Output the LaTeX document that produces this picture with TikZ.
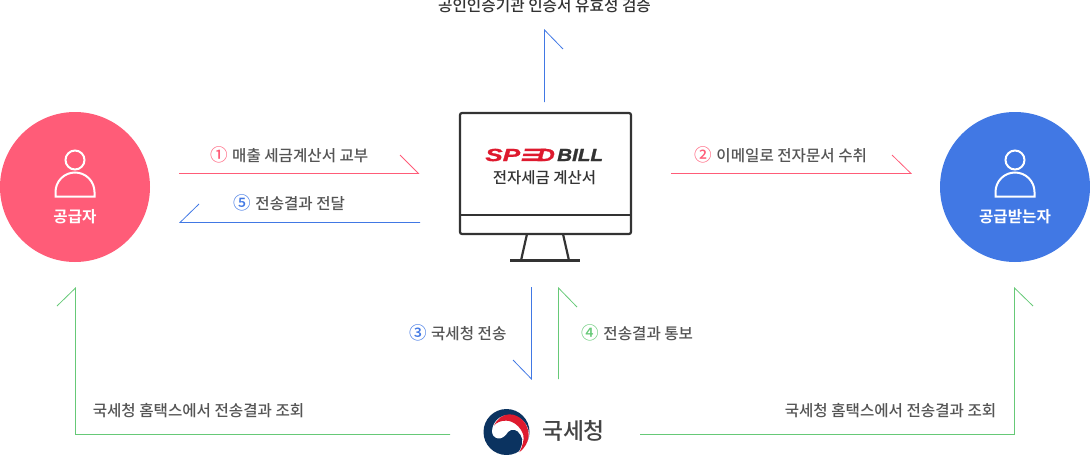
\documentclass[tikz,border=0pt]{standalone}
\usepackage{fontspec}
\setmainfont{Noto Sans CJK KR}
\newfontfamily\medkr{Noto Sans CJK KR}[UprightFont={* Medium}]
\newfontfamily\boldkr{Noto Sans CJK KR}[UprightFont={* Bold}]
\newfontfamily\logofont{Liberation Sans}[UprightFont={* Bold Italic},RawFeature={embolden=1.2}]
\definecolor{cred}{HTML}{FF5C78}
\definecolor{cblue}{HTML}{4178E4}
\definecolor{cgreen}{HTML}{66C977}
\definecolor{cgray}{HTML}{555555}
\definecolor{cdark}{HTML}{333333}
\definecolor{navy}{HTML}{0B3360}
\definecolor{logored}{HTML}{DE1A2E}
\newcommand{\cnum}[2]{\textcolor{#1}{\fontsize{17.5}{18}\selectfont #2}\hspace{4pt}}
\tikzset{
  x=1pt,y=-1pt,
  flow/.style={line width=0.8pt},
  lbl/.style={inner sep=0,text=cgray,font=\fontsize{15.6}{18}\medkr},
  circlenode/.style={circle,minimum size=150pt,inner sep=0},
  whitelbl/.style={inner sep=0,text=white,font=\fontsize{15.6}{17}\boldkr},
  person/.style={draw=white,line width=2pt},
  screen/.style={draw=cdark,line width=2.2pt,line join=round},
  logoletters/.style={inner sep=0,font=\fontsize{17.5}{18}\logofont}
}
\begin{document}
\begin{tikzpicture}
\useasboundingbox (0,0) rectangle (1090,455);
% parties
\node[circlenode,fill=cred] (sup) at (75,187) {};
\node[circlenode,fill=cblue] (rec) at (1015,187) {};
\node[whitelbl] (suplbl) at (75,217) {공급자};
\node[whitelbl] (reclbl) at (1015,217) {공급받는자};
\foreach \c in {75,1015}{
  \draw[person] (\c,160) circle[radius=9.5];
  \draw[person] (\c-19.5,196.5) -- (\c-19.5,192) arc[start angle=180,end angle=0,x radius=19.5,y radius=-19.5] -- (\c+19.5,196.5) -- cycle;
}
% monitor
\draw[screen,rounded corners=2pt] (460,113) rectangle (631,234);
\draw[screen] (460,215) -- (631,215);
\draw[screen] (527,234) -- (521,260.5);
\draw[screen] (563,234) -- (569,260.5);
\draw[screen] (510,260.5) -- (580,260.5);
% logo on the screen
\node[logoletters,text=logored,anchor=west] (sp) at (485,155) {\scalebox{1.5}[1]{SP}};
\fill[logored] (525,148.6) -- (546,148.6) -- (545.4,151.2) -- (524.4,151.2) -- cycle;
\fill[logored] (523.4,153.6) -- (541,153.6) -- (540.4,156.2) -- (522.8,156.2) -- cycle;
\fill[logored] (522,158.4) -- (543,158.4) -- (542.4,161) -- (521.4,161) -- cycle;
\node[logoletters,text=logored,anchor=west] (dd) at (537,155) {\scalebox{1.4}[1]{D}};
\node[logoletters,text=cdark,anchor=west] (bill) at (557,155) {\scalebox{1.18}[1]{BILL}};
\node[inner sep=0,text=cdark,font=\fontsize{15.5}{17}\medkr] (scr) at (544.5,178) {전자세금 계산서};
% title
\node[inner sep=0,text=cdark,font=\fontsize{15.7}{18}\medkr] (ttl) at (544.5,6) {공인인증기관 인증서 유효성 검증};
% NTS logo
\node[circle,minimum size=46pt,inner sep=0,fill=navy] (nts) at (506.5,432) {};
\begin{scope}[shift={(480,405)},x=0.3333pt,y=-0.3333pt]
\fill[white] (36,78) .. controls (38,50) and (60,30) .. (85,30) .. controls (115,30) and (140,50) .. (146,78) .. controls (150,105) and (135,135) .. (112,147) .. controls (125,130) and (133,105) .. (122,90) .. controls (112,72) and (95,70) .. (85,80) .. controls (75,95) and (65,102) .. (53,100) .. controls (43,98) and (36,90) .. (36,78) -- cycle;
\fill[logored] (42,62) .. controls (52,40) and (70,28) .. (88,28) .. controls (118,28) and (146,55) .. (146,90) .. controls (146,110) and (134,130) .. (118,142) .. controls (128,122) and (133,105) .. (130,90) .. controls (122,65) and (100,47) .. (78,47) .. controls (62,47) and (50,52) .. (42,62) -- cycle;
\end{scope}
\node[inner sep=0,text=cgray!80!black,font=\fontsize{22.8}{24}\medkr] (ntslbl) at (573.5,431) {국세청};
% connectors
\coordinate (topa) at (544.5,102);
\coordinate (topb) at (544.5,30);
\draw[flow,cblue] (topa) -- (topb) -- (563,49);
\node[lbl] (l1) at (289.5,155) {\cnum{cred}{①}매출 세금계산서 교부};
\coordinate (a1) at (179,173.5); \coordinate (b1) at (418.5,173.5);
\draw[flow,cred] (a1) -- (b1) -- (400,155);
\node[lbl] (l5) at (289.5,203) {\cnum{cblue}{⑤}전송결과 전달};
\coordinate (a5) at (420,222.5); \coordinate (b5) at (180,222.5);
\draw[flow,cblue] (a5) -- (b5) -- (199,204);
\node[lbl] (l2) at (781,155) {\cnum{cred}{②}이메일로 전자문서 수취};
\coordinate (a2) at (671,173.5); \coordinate (b2) at (911,173.5);
\draw[flow,cred] (a2) -- (b2) -- (892,155);
\node[lbl] (l3) at (458,333) {\cnum{cblue}{③}국세청 전송};
\coordinate (a3) at (531.5,287); \coordinate (b3) at (531.5,379);
\draw[flow,cblue] (a3) -- (b3) -- (513,360);
\node[lbl] (l4) at (637.5,333) {\cnum{cgreen}{④}전송결과 통보};
\coordinate (a4) at (558.5,379); \coordinate (b4) at (558.5,288);
\draw[flow,cgreen] (a4) -- (b4) -- (577,307);
\node[lbl] (l6) at (198.5,411) {국세청 홈택스에서 전송결과 조회};
\node[lbl] (l7) at (890.5,411) {국세청 홈택스에서 전송결과 조회};
\coordinate (a6) at (450,434.5); \coordinate (c6) at (75.5,434.5); \coordinate (b6) at (75.5,288);
\draw[flow,cgreen] (a6) -- (c6) -- (b6) -- (57,306);
\coordinate (a7) at (640,434.5); \coordinate (c7) at (1014.5,434.5); \coordinate (b7) at (1014.5,288);
\draw[flow,cgreen] (a7) -- (c7) -- (b7) -- (1033,306);
\end{tikzpicture}
\end{document}
